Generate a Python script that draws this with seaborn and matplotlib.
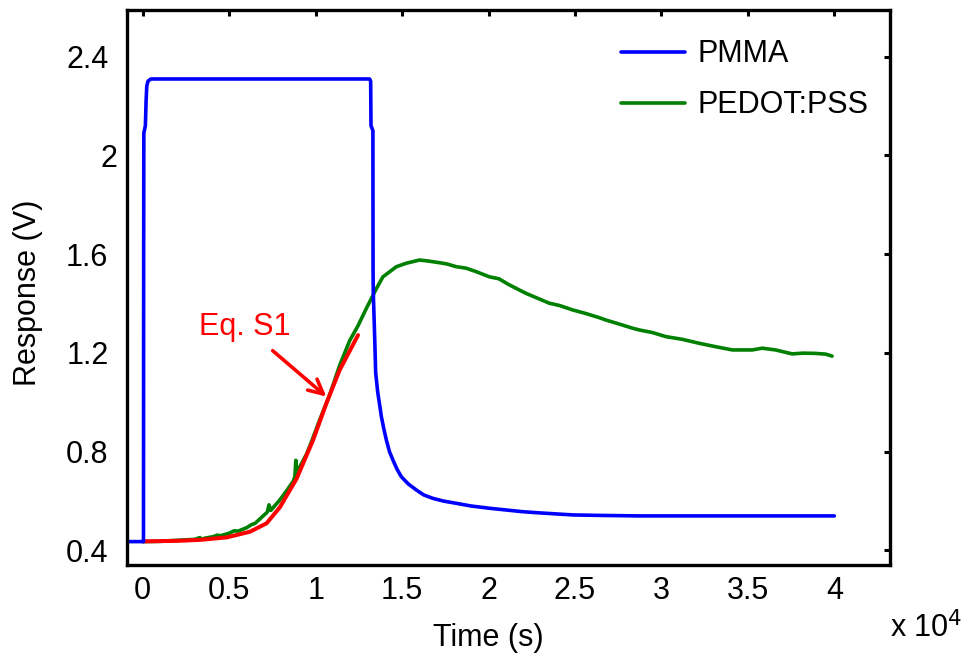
import numpy as np
import pandas as pd
import matplotlib
matplotlib.use("Agg")
import matplotlib.pyplot as plt
import matplotlib.transforms as mtransforms
import seaborn as sns

# Step response, PMMA film (time in s, response in V)
pmma_t = [-940, 40, 50, 60, 150, 190, 230, 300, 460, 13120, 13180, 13200,
          13310, 13320, 13330, 13410, 13470, 13590, 13700, 13800, 13950,
          14090, 14270, 14470, 14700, 14950, 15350, 15820, 16250, 16780,
          17400, 18130, 19000, 20050, 21980, 23000, 24860, 26500, 28710,
          40000]
pmma_v = [0.436, 0.436, 1.62, 2.09, 2.12, 2.22, 2.28, 2.30, 2.309, 2.309,
          2.30, 2.12, 2.10, 1.53, 1.45, 1.27, 1.12, 1.04, 0.99, 0.942, 0.89,
          0.847, 0.80, 0.766, 0.73, 0.699, 0.67, 0.645, 0.625, 0.611, 0.60,
          0.591, 0.58, 0.571, 0.557, 0.552, 0.544, 0.542, 0.540, 0.540]

# Step response, PEDOT:PSS film
pedot_t = [0, 1000, 2150, 3000, 3300, 3400, 3600, 4080, 4300, 4500, 5000,
           5300, 5500, 6000, 6300, 6500, 6960, 7200, 7300, 7400, 7930, 8300,
           8700, 8800, 8850, 8900, 9470, 9700, 10240, 10810, 11390, 11970,
           12450, 12930, 13510, 13890, 14670, 15240, 16010, 16500, 17170,
           17600, 18130, 18700, 19280, 20050, 20600, 21210, 22170, 23520,
           24100, 24860, 25600, 26390, 26790, 27500, 28330, 28710, 29500,
           30250, 31200, 32180, 33140, 34100, 35250, 35830, 36600, 37560,
           38200, 38910, 39500, 39870]
pedot_v = [0.436, 0.437, 0.442, 0.445, 0.452, 0.446, 0.450, 0.456, 0.462,
           0.460, 0.470, 0.480, 0.478, 0.492, 0.505, 0.510, 0.540, 0.555,
           0.585, 0.562, 0.605, 0.640, 0.680, 0.700, 0.765, 0.715, 0.790,
           0.830, 0.930, 1.030, 1.150, 1.250, 1.310, 1.380, 1.460, 1.508,
           1.549, 1.563, 1.576, 1.572, 1.565, 1.560, 1.549, 1.543, 1.529,
           1.508, 1.500, 1.475, 1.441, 1.401, 1.392, 1.374, 1.360, 1.343,
           1.333, 1.318, 1.300, 1.293, 1.282, 1.266, 1.255, 1.239, 1.225,
           1.212, 1.212, 1.219, 1.212, 1.196, 1.199, 1.198, 1.195, 1.187]

# Eq. S1 fit of the PEDOT:PSS rise
fit_t = [0, 2000, 3310, 4850, 6200, 7160, 7930, 8890, 9850, 10620, 11390,
         12450]
fit_v = [0.437, 0.439, 0.443, 0.453, 0.476, 0.510, 0.575, 0.690, 0.847,
         0.996, 1.131, 1.272]

x_ticks = [0, 5000, 10000, 15000, 20000, 25000, 30000, 35000, 40000]
x_ticklabels = ["0", "0.5", "1", "1.5", "2", "2.5", "3", "3.5", "4"]
y_ticks = [0.4, 0.8, 1.2, 1.6, 2.0, 2.4]
y_ticklabels = ["0.4", "0.8", "1.2", "1.6", "2", "2.4"]

sns.set_theme(style="white")
plt.rcParams["font.family"] = ["Liberation Sans", "DejaVu Sans"]
plt.rcParams["font.size"] = 22
plt.rcParams["text.color"] = "black"
plt.rcParams["axes.labelcolor"] = "black"

fig = plt.figure(figsize=(9.66, 6.57), dpi=100)
ax = fig.add_axes([0.131, 0.1405, 0.7903, 0.8438])

df_pedot = pd.DataFrame({"t": pedot_t, "v": pedot_v})
df_pmma = pd.DataFrame({"t": pmma_t, "v": pmma_v})
df_fit = pd.DataFrame({"t": fit_t, "v": fit_v})

lw = 2.6
sns.lineplot(data=df_pedot, x="t", y="v", color=(0, 0.5, 0), lw=lw,
             sort=False, estimator=None, ax=ax, label="PEDOT:PSS")
sns.lineplot(data=df_fit, x="t", y="v", color=(1, 0, 0), lw=lw + 0.3,
             sort=False, estimator=None, ax=ax)
sns.lineplot(data=df_pmma, x="t", y="v", color=(0, 0, 1), lw=lw,
             sort=False, estimator=None, ax=ax, label="PMMA")

ax.set_xlim(-940, 43220)
ax.set_ylim(0.3425, 2.587)
ax.set_xticks(x_ticks)
ax.set_xticklabels(x_ticklabels)
ax.set_yticks(y_ticks)
ax.set_yticklabels(y_ticklabels)

for s in ax.spines.values():
    s.set_linewidth(2.4)
    s.set_color("black")
ax.tick_params(direction="in", length=4.5, width=2.2, top=True, right=True,
               labelsize=22, colors="black")
ax.tick_params(axis="x", pad=8)
ax.tick_params(axis="y", pad=13)

ax.set_xlabel("Time (s)", fontsize=22, color="black")
ax.set_ylabel("Response (V)", fontsize=22, color="black")
ax.xaxis.set_label_coords(0.474, -0.105)
ax.yaxis.set_label_coords(-0.11, 0.49)

ax.text(1.0, -0.115, r"x 10$^4$", transform=ax.transAxes, fontsize=22,
        ha="left", va="center", color="black")

# the "2" label sits a little to the right of the others
for tick in ax.yaxis.get_major_ticks():
    if tick.label1.get_text() == "2":
        tick.label1.set_transform(tick.label1.get_transform() +
                                  mtransforms.ScaledTranslation(9 / 100, 0, fig.dpi_scale_trans))

ax.annotate("Eq. S1", xy=(10620, 1.023), xytext=(5910, 1.305),
            color="red", fontsize=22, ha="center", va="center",
            arrowprops=dict(arrowstyle="->", color="red", lw=2.6,
                            mutation_scale=26, shrinkA=6, shrinkB=0))

handles, labels = ax.get_legend_handles_labels()
order = [labels.index("PMMA"), labels.index("PEDOT:PSS")]
leg = ax.legend([handles[i] for i in order], [labels[i] for i in order],
                loc="upper left", bbox_to_anchor=(0.628, 0.975), frameon=False,
                handlelength=2.1, handletextpad=0.4, labelspacing=0.68,
                borderpad=0, fontsize=22)
for txt in leg.get_texts():
    txt.set_color("black")

fig.savefig("out.png", dpi=100)
